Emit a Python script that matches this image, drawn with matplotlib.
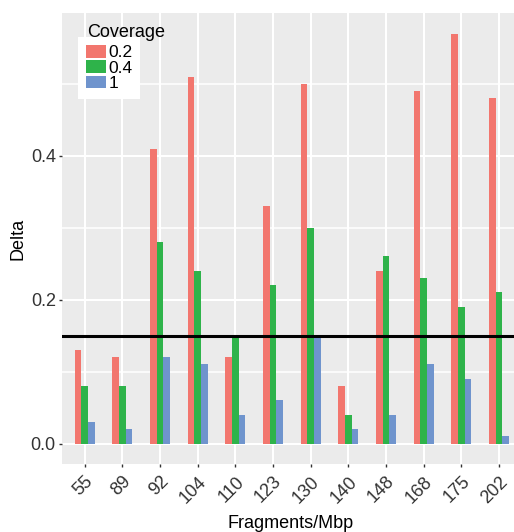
import matplotlib
matplotlib.use("Agg")
import matplotlib.pyplot as plt
from matplotlib.patches import Patch
import numpy as np

plt.rcParams['font.family'] = ['Liberation Sans', 'DejaVu Sans']

# fragments per Mbp, one group of bars each
fragments = ['55', '89', '92', '104', '110', '123', '130', '140', '148', '168', '175', '202']
coverage = ['0.2', '0.4', '1']
delta_02 = [0.13, 0.12, 0.41, 0.51, 0.12, 0.33, 0.50, 0.08, 0.24, 0.49, 0.57, 0.48]
delta_04 = [0.08, 0.08, 0.28, 0.24, 0.15, 0.22, 0.30, 0.04, 0.26, 0.23, 0.19, 0.21]
delta_1 = [0.03, 0.02, 0.12, 0.11, 0.04, 0.06, 0.15, 0.02, 0.04, 0.11, 0.09, 0.01]
threshold = 0.15

colors = ['#F2766E', '#2EB34A', '#6F94CD']

W, H = 514, 532
fig = plt.figure(figsize=(W / 100, H / 100), dpi=100)
# panel runs a bit past the right edge
x0, x1, ytop, ybot = 62, 521.6, 13, 464
ax = fig.add_axes([x0 / W, 1 - ybot / H, (x1 - x0) / W, (ybot - ytop) / H])
ax.set_facecolor('#EBEBEB')
for s in ax.spines.values():
    s.set_visible(False)

x = np.arange(len(fragments))
w = 0.177
for j, vals in enumerate([delta_02, delta_04, delta_1]):
    ax.bar(x + (j - 1) * w, vals, width=w, color=colors[j], zorder=2)

ax.axhline(threshold, color='black', lw=2.2, zorder=3)

ax.set_xlim(-0.6, len(fragments) - 0.4)
ax.set_ylim(-0.0285, 0.5985)
ax.set_yticks([0.0, 0.2, 0.4])
ax.set_yticklabels(['0.0', '0.2', '0.4'])
ax.set_yticks([0.1, 0.3, 0.5], minor=True)
ax.set_xticks(x)
ax.set_xticklabels(fragments, rotation=45, ha='right', va='top', rotation_mode='anchor')

ax.grid(True, which='major', color='white', lw=1.5, zorder=0)
ax.grid(True, which='minor', axis='y', color='white', lw=1.1, zorder=0)
ax.set_axisbelow(True)
ax.tick_params(which='major', length=2.5, width=1, color='#333333', labelcolor='#333333',
               labelsize=13, pad=2)
ax.tick_params(which='minor', length=0)
ax.tick_params(axis='x', pad=4)

ax.set_ylabel('Delta', fontsize=13)
ax.yaxis.set_label_coords((26 - x0) / (x1 - x0), 0.5)
ax.set_xlabel('Fragments/Mbp', fontsize=13)
ax.xaxis.set_label_coords((291 - x0) / (x1 - x0), -(515 - ybot) / (ybot - ytop))

handles = [Patch(facecolor=c, edgecolor='none') for c in colors]
leg = ax.legend(handles, coverage, loc='upper left',
                bbox_to_anchor=(78 / W, 1 - 37 / H), bbox_transform=fig.transFigure,
                borderaxespad=0, fontsize=12.5, frameon=True, fancybox=False,
                handlelength=1.15, handleheight=0.75, handletextpad=0.15,
                labelspacing=0.0, borderpad=0.45)
leg.get_frame().set_facecolor('white')
leg.get_frame().set_edgecolor('none')
leg.get_frame().set_alpha(1)
fig.text(87 / W, 1 - 37 / H, 'Coverage', fontsize=13, color='black', va='baseline', ha='left')

fig.savefig('out.png', dpi=100)
